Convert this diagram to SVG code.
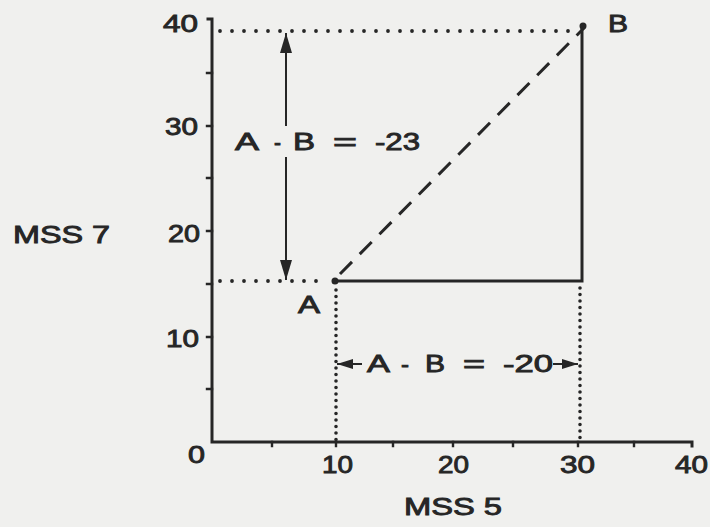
<svg xmlns="http://www.w3.org/2000/svg" width="710" height="527" viewBox="0 0 710 527">
<defs>
<style>
.ink{stroke:#262626;fill:none;stroke-linecap:square}
.axis{stroke-width:3}
.tick{stroke-width:2.4}
.solid{stroke-width:3}
.dash{stroke-width:3;stroke-dasharray:17 11;stroke-linecap:butt}
.doth{stroke-width:3.8;stroke-dasharray:0 12;stroke-linecap:round}
.dotv{stroke-width:3.6;stroke-dasharray:0 6.5;stroke-linecap:round}
.shaft{stroke-width:2;stroke-linecap:butt}
text{font-family:"Liberation Sans",Arial,sans-serif;font-size:24px;fill:#262626;stroke:#262626;stroke-width:0.9px}
</style>
<marker id="arrV" viewBox="0 0 20 12" refX="20" refY="6" markerWidth="20" markerHeight="12" markerUnits="userSpaceOnUse" orient="auto-start-reverse">
<path d="M0,0 L20,6 L0,12 Z" fill="#262626"/>
</marker>
<marker id="arrH" viewBox="0 0 16 10" refX="16" refY="5" markerWidth="16" markerHeight="10" markerUnits="userSpaceOnUse" orient="auto">
<path d="M0,0 L16,5 L0,10 Z" fill="#262626"/>
</marker>
</defs>
<rect x="0" y="0" width="710" height="527" fill="#f0f0ee"/>

<g id="axes">
<path class="ink axis" d="M208,19 L212,19 L212,442 L692,442 L692,446"/>
<g class="ink tick">
<path d="M207,73 H212 M207,126 H212 M207,178 H212 M207,231 H212 M207,284 H212 M207,337 H212 M207,389 H212"/>
<path d="M272,442 V446 M336,442 V446 M393,442 V446 M453,442 V446 M513,442 V446 M578,442 V446 M634,442 V446"/>
</g>
<g id="y-labels">
<text x="163" y="32" textLength="35" lengthAdjust="spacingAndGlyphs">40</text>
<text x="165" y="135" textLength="33" lengthAdjust="spacingAndGlyphs">30</text>
<text x="168" y="242" textLength="32" lengthAdjust="spacingAndGlyphs">20</text>
<text x="166" y="347" textLength="33" lengthAdjust="spacingAndGlyphs">10</text>
</g>
<g id="x-labels">
<text x="188" y="463" textLength="17" lengthAdjust="spacingAndGlyphs">0</text>
<text x="322" y="473" textLength="31" lengthAdjust="spacingAndGlyphs">10</text>
<text x="438" y="473" textLength="31" lengthAdjust="spacingAndGlyphs">20</text>
<text x="560" y="473" textLength="35" lengthAdjust="spacingAndGlyphs">30</text>
<text x="675" y="473" textLength="33" lengthAdjust="spacingAndGlyphs">40</text>
</g>
<text id="x-title" x="404" y="515" textLength="98" lengthAdjust="spacingAndGlyphs">MSS 5</text>
<text id="y-title" x="13" y="243" textLength="97" lengthAdjust="spacingAndGlyphs">MSS 7</text>
</g>

<g id="connectors">
<path class="ink doth" d="M220,31 H576"/>
<path class="ink doth" d="M220,281 H328"/>
<path class="ink dotv" d="M336,290 V440"/>
<path class="ink dotv" d="M580,288 V440"/>
<path class="ink solid" d="M335,281 H582 V27"/>
<path class="ink dash" d="M340,274 L584,28"/>
<path class="ink shaft" d="M286,126 V33" marker-end="url(#arrV)"/>
<path class="ink shaft" d="M286,157 V280" marker-end="url(#arrV)"/>
<path class="ink shaft" d="M362,364 H337" marker-end="url(#arrH)"/>
<path class="ink shaft" d="M553,364 H578" marker-end="url(#arrH)"/>
</g>

<g id="point-A">
<circle cx="335" cy="281" r="3.5" fill="#262626"/>
<text x="298" y="313" textLength="22" lengthAdjust="spacingAndGlyphs">A</text>
</g>
<g id="point-B">
<circle cx="583" cy="26" r="3.5" fill="#262626"/>
<text x="608" y="32" textLength="20" lengthAdjust="spacingAndGlyphs">B</text>
</g>

<g id="label-diff-7">
<text><tspan x="235" y="150" textLength="22" lengthAdjust="spacingAndGlyphs">A</tspan> <tspan x="274" y="150" textLength="7" lengthAdjust="spacingAndGlyphs">-</tspan> <tspan x="293" y="150" textLength="22" lengthAdjust="spacingAndGlyphs">B</tspan> <tspan x="333" y="150" textLength="24" lengthAdjust="spacingAndGlyphs">=</tspan> <tspan x="375" y="150" textLength="45" lengthAdjust="spacingAndGlyphs">-23</tspan></text>
</g>
<g id="label-diff-5">
<text><tspan x="367" y="372" textLength="21" lengthAdjust="spacingAndGlyphs">A</tspan> <tspan x="401" y="372" textLength="8" lengthAdjust="spacingAndGlyphs">-</tspan> <tspan x="425" y="372" textLength="20" lengthAdjust="spacingAndGlyphs">B</tspan> <tspan x="463" y="372" textLength="22" lengthAdjust="spacingAndGlyphs">=</tspan> <tspan x="503" y="372" textLength="50" lengthAdjust="spacingAndGlyphs">-20</tspan></text>
</g>
</svg>
